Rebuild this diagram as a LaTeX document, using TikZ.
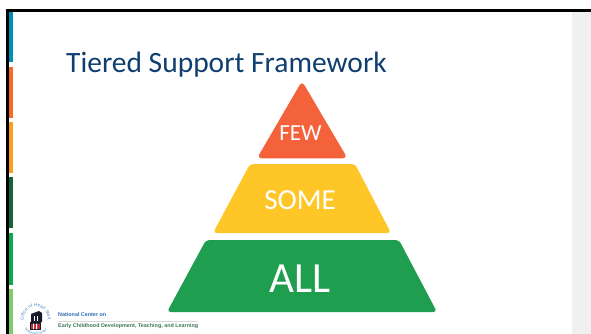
\documentclass[tikz,border=0pt]{standalone}
\usepackage{graphicx}
\usepackage{fontspec}
\setmainfont{Carlito}
\newfontfamily\logofont{Liberation Sans}
\usetikzlibrary{decorations.text}
\definecolor{titleblue}{HTML}{0F3F70}
\definecolor{few}{HTML}{F4623C}
\definecolor{some}{HTML}{FFC627}
\definecolor{allg}{HTML}{1E9E4E}
\definecolor{panel}{HTML}{F0F0F0}
\definecolor{ringblue}{HTML}{4F8FC4}
\definecolor{logoblue}{HTML}{2F6DB5}
\definecolor{logogreen}{HTML}{3C7A56}
\definecolor{logonavy}{HTML}{1A1A2E}
\definecolor{logored}{HTML}{C0272D}
\tikzset{
  tier/.style={rounded corners=3.5pt,draw=none},
  tierlabel/.style={text=white,inner sep=0pt,anchor=center},
  sidebar/.style={draw=none},
  frame/.style={draw=none,fill=black},
}
\begin{document}
\begin{tikzpicture}[x=1pt,y=-1pt]
\useasboundingbox (0,0) rectangle (591,334);
\fill[white] (0,0) rectangle (591,334);
\fill[panel] (572,12) rectangle (591,334);
% coloured side bars
\fill[sidebar,fill={rgb,255:red,0;green,143;blue,178}] (8,12) rectangle (13,62.5);
\fill[sidebar,fill={rgb,255:red,247;green,107;blue,40}] (8,67) rectangle (13,118);
\fill[sidebar,fill={rgb,255:red,247;green,160;blue,30}] (8,122) rectangle (13,173);
\fill[sidebar,fill={rgb,255:red,20;green,100;blue,55}] (8,177) rectangle (13,228);
\fill[sidebar,fill={rgb,255:red,10;green,168;blue,80}] (8,233) rectangle (13,285);
\fill[sidebar,fill={rgb,255:red,125;green,205;blue,105}] (8,289) rectangle (13,334);
% frame
\fill[frame] (6,9) rectangle (591,12.3);
\fill[frame] (6,9) rectangle (8.5,334);
% title
\node[text=titleblue,font=\fontsize{29.5}{32}\selectfont,anchor=base west,inner sep=0pt] (title) at (66,73) {Tiered Support Framework};
% pyramid
\fill[tier,fill=few,rounded corners=4.5pt] (302,81) -- (347.5,158.3) -- (257,158.3) -- cycle;
\fill[tier,fill=some] (250,164) -- (355,164) -- (391,233) -- (213,233) -- cycle;
\fill[tier,fill=allg] (206,240) -- (399,240) -- (437,312) -- (167,312) -- cycle;
\node[tierlabel,font=\fontsize{23}{25}\selectfont] (few) at (300.5,133.5) {FEW};
\node[tierlabel,font=\fontsize{29}{32}\selectfont] (some) at (300,200.5) {SOME};
\node[tierlabel,font=\fontsize{43}{46}\selectfont] (all) at (300.5,279) {ALL};
% logo ring
\path[postaction={decorate},decoration={text along path,text align=center,
  text={|\logofont\fontsize{4.6}{5}\selectfont\color{ringblue}|Office of Head Start}}]
  (24,321) arc[start angle=170,end angle=370,radius=12];
\path[postaction={decorate},decoration={text along path,text align=center,
  text={|\logofont\fontsize{3.6}{4}\selectfont\color{ringblue}|National Center}}]
  (21.5,325) arc[start angle=158,end angle=22,radius=15.5];
% logo blocks
\fill[logonavy] (31,314) -- (39,311) -- (42,313) -- (42,322) -- (31,322) -- cycle;
\fill[white] (33.5,316) rectangle (38,321);
\fill[logonavy] (35,315) rectangle (36.5,321);
\fill[logonavy] (29.5,322) rectangle (41,330);
\fill[logored] (31,323.5) rectangle (39.5,329);
\fill[white] (33,323.5) rectangle (34,329) (36,323.5) rectangle (37,329);
% logo text
\node[text=logoblue,font=\logofont\bfseries\fontsize{5.4}{6}\selectfont,anchor=base west,inner sep=0pt] (ncenter) at (58,316) {National Center on};
\draw[black!15,line width=0.3pt] (58,321) -- (198,321);
\node[text=logogreen,font=\logofont\bfseries\fontsize{5.5}{6}\selectfont,anchor=base west,inner sep=0pt] (ecd) at (58,327.5) {\resizebox{140pt}{!}{Early Childhood Development, Teaching, and Learning}};
\end{tikzpicture}
\end{document}
